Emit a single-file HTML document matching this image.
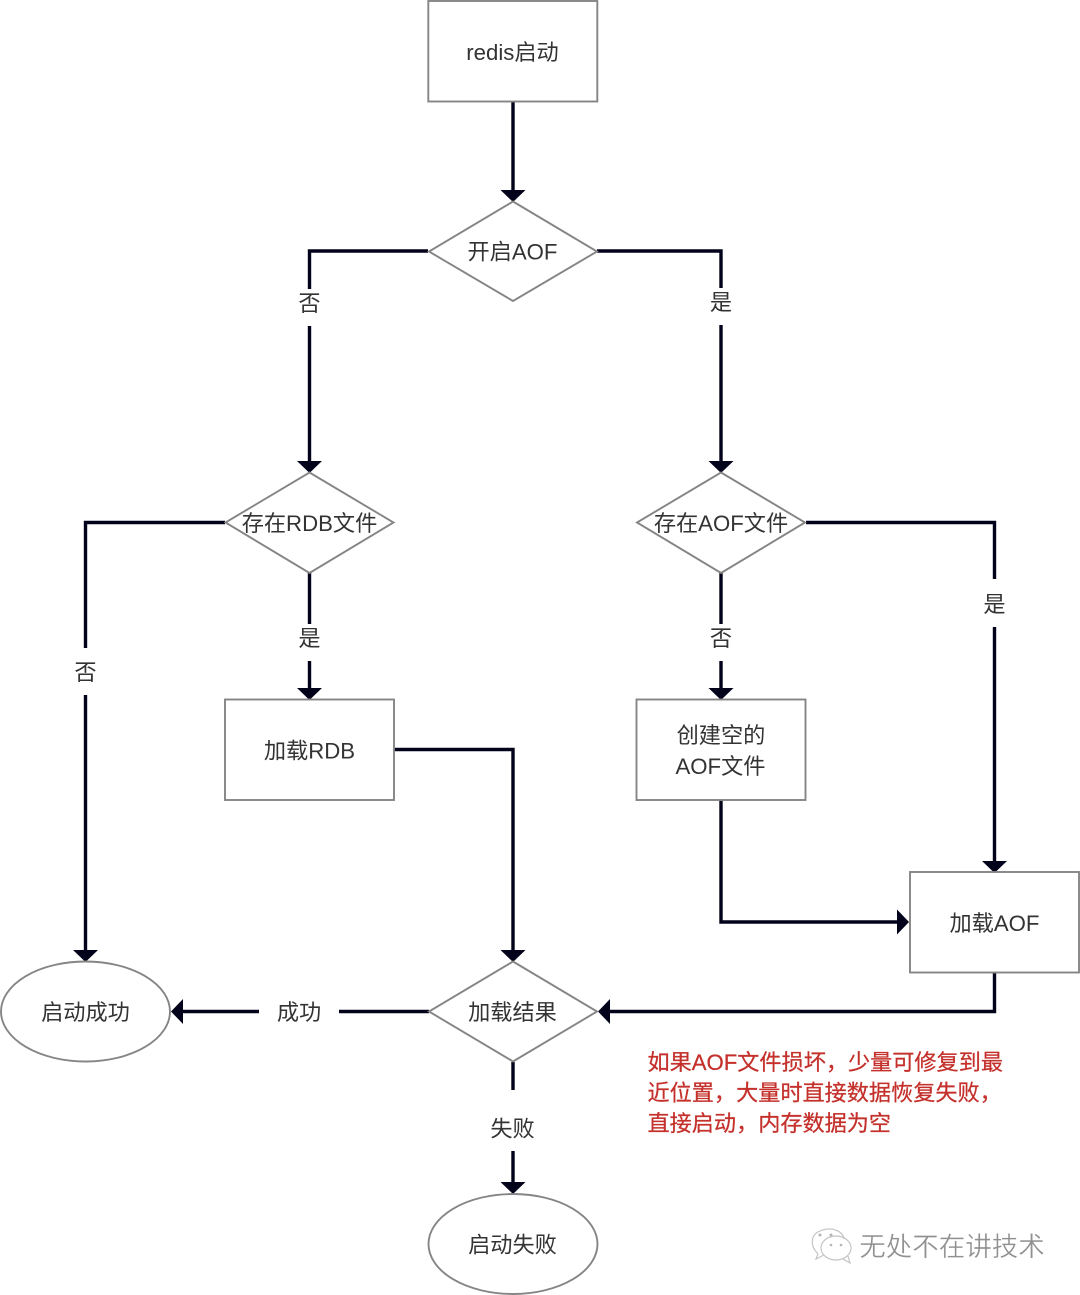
<!DOCTYPE html>
<html><head><meta charset="utf-8"><style>
html,body{margin:0;padding:0;background:#fff;width:1080px;height:1295px;overflow:hidden}
svg{display:block;filter:blur(.35px)}
text{font-family:"Liberation Sans","Noto Sans CJK SC",sans-serif;font-size:22.2px;fill:#333;text-anchor:middle}
.s{fill:#fff;stroke:#858585;stroke-width:1.9}
.l{fill:none;stroke:#02021a;stroke-width:3.4}
.a{fill:#02021a}
.bg{fill:#fff}
.r{fill:#c4302b;stroke:#c4302b;stroke-width:.25;text-anchor:start;font-size:22.15px}
</style></head><body>
<svg width="1080" height="1295" viewBox="0 0 1080 1295" xmlns="http://www.w3.org/2000/svg">
<!-- connectors -->
<path class="l" d="M513 102V190"/>
<path class="l" d="M428 251H309.500V462"/>
<path class="l" d="M597 251H721V462"/>
<path class="l" d="M225 522.500H85.500V951"/>
<path class="l" d="M309.500 573V690"/>
<path class="l" d="M806 522.500H994.500V862"/>
<path class="l" d="M721 573V690"/>
<path class="l" d="M394 749.500H513V951"/>
<path class="l" d="M721 800V922H899"/>
<path class="l" d="M994.500 973V1011.500H609"/>
<path class="l" d="M429 1011.500H182"/>
<path class="l" d="M513 1062V1184"/>
<!-- arrowheads -->
<path class="a" d="M500.500 190H525.500L513 202Z"/>
<path class="a" d="M297 461H322L309.500 473Z"/>
<path class="a" d="M708.500 461H733.500L721 473Z"/>
<path class="a" d="M73 950H98L85.500 962Z"/>
<path class="a" d="M297 688H322L309.500 700Z"/>
<path class="a" d="M708.500 688H733.500L721 700Z"/>
<path class="a" d="M982 861H1007L994.500 873Z"/>
<path class="a" d="M500.500 950H525.500L513 962Z"/>
<path class="a" d="M897 909.500V934.500L909 922Z"/>
<path class="a" d="M610 999V1024L598 1011.500Z"/>
<path class="a" d="M183 999V1024L171 1011.500Z"/>
<path class="a" d="M500.500 1182H525.500L513 1194Z"/>
<!-- shapes -->
<rect class="s" x="428.300" y="1" width="169" height="100.500"/>
<path class="s" d="M513 201.500L597 251.500L513 301L429 251.500Z"/>
<path class="s" d="M309.500 472.500L393.500 522.500L309.500 573L225.500 522.500Z"/>
<path class="s" d="M721 472.500L805 522.500L721 573L637 522.500Z"/>
<rect class="s" x="225" y="699.500" width="169" height="100.500"/>
<rect class="s" x="636.500" y="699.500" width="169" height="100.500"/>
<rect class="s" x="910" y="872" width="169" height="100.500"/>
<path class="s" d="M513 961.500L597 1011.500L513 1061.500L429 1011.500Z"/>
<ellipse class="s" cx="85.500" cy="1011.500" rx="84.500" ry="50"/>
<ellipse class="s" cx="513" cy="1244" rx="84.500" ry="50"/>
<!-- edge label backgrounds -->
<rect class="bg" x="296" y="289" width="27" height="37"/>
<rect class="bg" x="708" y="288" width="27" height="37"/>
<rect class="bg" x="72" y="648" width="27" height="47"/>
<rect class="bg" x="296" y="624" width="27" height="37"/>
<rect class="bg" x="708" y="624" width="27" height="37"/>
<rect class="bg" x="981" y="579" width="27" height="48"/>
<rect class="bg" x="259" y="1000" width="80" height="24"/>
<rect class="bg" x="488" y="1090" width="50" height="61"/>
<!-- node text -->
<text x="512.500" y="60">redis启动</text>
<text x="512.500" y="259.500">开启AOF</text>
<text x="309.500" y="531">存在RDB文件</text>
<text x="721" y="531">存在AOF文件</text>
<text x="309.500" y="758.500">加载RDB</text>
<text x="721" y="743">创建空的</text>
<text x="720.500" y="774">AOF文件</text>
<text x="994.500" y="931">加载AOF</text>
<text x="512.500" y="1020">加载结果</text>
<text x="85.500" y="1020">启动成功</text>
<text x="512.500" y="1252.500">启动失败</text>
<!-- edge text -->
<text x="309.500" y="311">否</text>
<text x="721" y="310">是</text>
<text x="85.500" y="680">否</text>
<text x="309.500" y="646">是</text>
<text x="721" y="646">否</text>
<text x="994.500" y="612">是</text>
<text x="299" y="1020">成功</text>
<text x="512.500" y="1136.500">失败</text>
<!-- note -->
<text class="r" x="647.500" y="1070">如果AOF文件损坏，少量可修复到最</text>
<text class="r" x="647.500" y="1100.500">近位置，大量时直接数据恢复失败，</text>
<text class="r" x="647.500" y="1131">直接启动，内存数据为空</text>
<!-- watermark -->
<g fill="none" stroke="#c4c4c4" stroke-width="1.2">
<path d="M818 1254C810 1246 810 1235 820 1231C832 1226 843 1231 844 1239M818 1254L816 1259L824 1255"/>
<ellipse cx="836" cy="1248" rx="15" ry="12"/>
<path d="M843 1259L850 1263L848 1256"/>
</g>
<g fill="#b5b5b5"><circle cx="820" cy="1235" r="1.500"/><circle cx="831" cy="1235" r="1.500"/><circle cx="831" cy="1245" r="1.300"/><circle cx="841" cy="1245" r="1.300"/></g>
<text x="952" y="1256" style="font-size:26.500px;fill:#909090;stroke:#fff;stroke-width:.35">无处不在讲技术</text>
</svg>
</body></html>
